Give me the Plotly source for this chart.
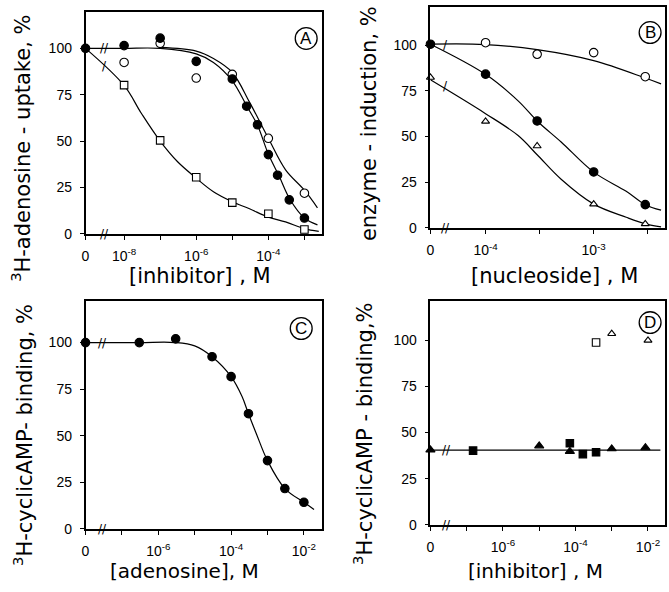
import numpy as np
import plotly.graph_objects as go

W, H = 669, 592
INK = "black"
TICK_FONT = dict(family="Liberation Sans, Arial", size=14, color=INK)
TITLE_FONT = dict(family="DejaVu Sans", size=21, color=INK)

# ==============================
# Values (concentration in M, 0 = no addition)
# ==============================

# Panel A: 3H-adenosine uptake vs [inhibitor]
a_filled_x = [0, 1e-8, 1e-7, 1e-6, 1e-5, 2.5e-5, 5e-5, 1e-4, 1.8e-4, 3.8e-4, 1e-3]
a_filled_y = [100, 101.5, 105.5, 93, 83.5, 68.8, 58.8, 42.7, 31.6, 18.3, 8.5]
a_open_x = [1e-8, 1e-7, 1e-6, 1e-5, 1e-4, 1e-3]
a_open_y = [92.4, 102.7, 84, 86, 51.5, 21.9]
a_square_x = [1e-8, 1e-7, 1e-6, 1e-5, 1e-4, 1e-3]
a_square_y = [80.2, 50.4, 30.5, 16.8, 10.8, 2.3]
# fitted curves as drawn
a_fit_filled_x = [0, 1e-8, 1e-7, 1e-6, 3e-6, 1e-5, 2.5e-5, 5e-5, 1e-4, 2e-4, 4e-4, 1e-3, 2.3e-3]
a_fit_filled_y = [100, 100, 100, 97, 92.4, 82.5, 69, 58.5, 43, 31, 18.5, 8.5, 4.8]
a_fit_open_x = [1e-7, 1e-6, 3e-6, 1e-5, 3e-5, 1e-4, 3e-4, 1e-3, 2.3e-3]
a_fit_open_y = [100.5, 98.5, 94.5, 87, 71, 51.5, 34.5, 23.5, 14]
a_fit_square_x = [0, 1e-8, 3e-8, 1e-7, 3e-7, 1e-6, 3e-6, 1e-5, 3e-5, 1e-4, 3e-4, 1e-3, 2.5e-3]
a_fit_square_y = [100, 80, 65, 50, 39, 30, 22.7, 17.3, 13.5, 9, 6.4, 2.8, 1.3]
a_tick_vals = [0, 1e-8, 1e-6, 1e-4]
a_tick_text = ["0", "10<sup>-8</sup>", "10<sup>-6</sup>", "10<sup>-4</sup>"]
a_minor_vals = [1e-7, 1e-5, 1e-3]

# Panel B: enzyme induction vs [nucleoside]
b_open_x = [1e-4, 3e-4, 1e-3, 3e-3]
b_open_y = [101.3, 95, 95.9, 82.7]
b_filled_x = [0, 1e-4, 3e-4, 1e-3, 3e-3]
b_filled_y = [100.5, 84.1, 58.5, 30.6, 12.7]
b_tri_x = [0, 1e-4, 3e-4, 1e-3, 3e-3]
b_tri_y = [82.3, 58.3, 44.8, 13, 2.2]
b_fit_open_x = [0, 1e-4, 3e-4, 1e-3, 3e-3, 4.2e-3]
b_fit_open_y = [100.5, 100.3, 97.5, 91.5, 82, 78.8]
b_fit_x = [0, 1e-4, 2e-4, 3e-4, 5e-4, 1e-3, 2e-3, 3e-3, 4.2e-3]
b_fit_filled_y = [100.5, 84, 69.5, 58.5, 47, 30.5, 20, 12.7, 9.7]
b_fit_tri_y = [81, 62.5, 50.5, 40, 26.6, 13, 5.8, 2.2, 0.5]
b_tick_vals = [0, 1e-4, 1e-3]
b_tick_text = ["0", "10<sup>-4</sup>", "10<sup>-3</sup>"]
b_minor_vals = [3.16e-4, 3.16e-3]

# Panel C: 3H-cyclicAMP binding vs [adenosine]
c_x = [0, 3e-7, 3e-6, 3e-5, 1e-4, 3e-4, 1e-3, 3e-3, 1e-2]
c_y = [100, 100, 102, 92.4, 81.7, 61.8, 36.6, 21.6, 14.2]
c_fit_x = [0, 3e-7, 3e-6, 1e-5, 3e-5, 1e-4, 2e-4, 3e-4, 5e-4, 1e-3, 3e-3, 1e-2, 1.9e-2]
c_fit_y = [100, 100, 100, 98.2, 92.4, 81.7, 71, 61.8, 50.8, 36.6, 21.6, 14.2, 10.4]

# Panel D: 3H-cyclicAMP binding vs [inhibitor]
d_tri_x = [0, 1e-5, 7e-5, 1e-3, 8.5e-3]
d_tri_y = [40.6, 42.8, 39.8, 41.2, 41.8]
d_sq_x = [1.5e-7, 7e-5, 1.6e-4, 3.7e-4]
d_sq_y = [40.2, 44.2, 38.3, 39.3]
d_open_sq_x = [3.7e-4]
d_open_sq_y = [98.8]
d_open_tri_x = [1e-3, 1e-2]
d_open_tri_y = [103.6, 100]
d_line_x = [0, 2.2e-2]
d_line_y = [40.5, 40.5]

cd_tick_vals = [0, 1e-6, 1e-4, 1e-2]
cd_tick_text = ["0", "10<sup>-6</sup>", "10<sup>-4</sup>", "10<sup>-2</sup>"]
cd_minor_vals = [1e-7, 1e-5, 1e-3]
y_tick_vals = [0, 25, 50, 75, 100]


# ==============================
# Panel geometry (pixels) and helpers
# ==============================

PANELS = {
    "A": dict(n="", box=(82, 320, 12, 237), xr=(-9.07, -2.51), ytop=119.7, brk=-8.55),
    "B": dict(n="2", box=(429, 665, 7, 231), xr=(-4.51, -2.34), ytop=120.9, brk=-4.37),
    "C": dict(n="3", box=(82, 320, 305, 536), xr=(-8.0, -1.5), ytop=122.4, brk=-7.52),
    "D": dict(n="4", box=(429, 665, 305, 532), xr=(-8.0, -1.53), ytop=121.4, brk=-7.57),
}


def fx(p):
    return p / W


def fy(p):
    return 1 - p / H


def on_axis(values, panel):
    # "0" is drawn at the left end of the broken log axis
    zero = 10 ** PANELS[panel]["xr"][0]
    return [zero if v == 0 else v for v in values]


fig = go.Figure()


def curve(panel, x, y):
    n = PANELS[panel]["n"]
    fig.add_trace(go.Scatter(
        x=on_axis(x, panel), y=y, mode="lines",
        line=dict(color=INK, width=1.2, shape="spline"),
        xaxis="x" + n, yaxis="y" + n, hoverinfo="skip",
    ))


def points(panel, x, y, symbol, filled=True, size=8.5):
    n = PANELS[panel]["n"]
    fig.add_trace(go.Scatter(
        x=on_axis(x, panel), y=y, mode="markers", cliponaxis=False,
        marker=dict(symbol=symbol, size=size, color=INK if filled else "white",
                    line=dict(color=INK, width=1.1)),
        xaxis="x" + n, yaxis="y" + n,
    ))


# Panel A
curve("A", a_fit_square_x, a_fit_square_y)
curve("A", a_fit_open_x, a_fit_open_y)
curve("A", a_fit_filled_x, a_fit_filled_y)
points("A", a_square_x, a_square_y, "square", filled=False, size=7.5)
points("A", a_open_x, a_open_y, "circle", filled=False)
points("A", a_filled_x, a_filled_y, "circle")

# Panel B
curve("B", b_fit_open_x, b_fit_open_y)
curve("B", b_fit_x, b_fit_filled_y)
curve("B", b_fit_x, b_fit_tri_y)
points("B", b_open_x, b_open_y, "circle", filled=False)
points("B", b_tri_x, b_tri_y, "triangle-up", filled=False, size=7)
points("B", b_filled_x, b_filled_y, "circle")

# Panel C
curve("C", c_fit_x, c_fit_y)
points("C", c_x, c_y, "circle")

# Panel D
curve("D", d_line_x, d_line_y)
points("D", d_tri_x, d_tri_y, "triangle-up", size=8)
points("D", d_sq_x, d_sq_y, "square", size=7.5)
points("D", d_open_sq_x, d_open_sq_y, "square", filled=False, size=7.5)
points("D", d_open_tri_x, d_open_tri_y, "triangle-up", filled=False, size=7)

# ==============================
# Axes
# ==============================

x_ticks = {"A": (a_tick_vals, a_tick_text, a_minor_vals),
           "B": (b_tick_vals, b_tick_text, b_minor_vals),
           "C": (cd_tick_vals, cd_tick_text, cd_minor_vals),
           "D": (cd_tick_vals, cd_tick_text, cd_minor_vals)}

layout_axes = {}
for name, p in PANELS.items():
    left, right, top, bottom = p["box"]
    vals, text, minor = x_ticks[name]
    common = dict(showline=True, linecolor=INK, linewidth=1.5, mirror=True,
                  ticks="outside", ticklen=4, tickwidth=1.2, tickcolor=INK,
                  showgrid=False, zeroline=False, tickfont=TICK_FONT)
    layout_axes["xaxis" + p["n"]] = dict(
        common, type="log", domain=[fx(left), fx(right)], range=list(p["xr"]),
        anchor="y" + p["n"], tickvals=on_axis(vals, name), ticktext=text,
        ticklabelstandoff=5,
        minor=dict(tickvals=minor, ticks="outside", ticklen=4, tickwidth=1.2,
                   tickcolor=INK, showgrid=False),
    )
    layout_axes["yaxis" + p["n"]] = dict(
        common, domain=[fy(bottom), fy(top)], range=[0, p["ytop"]],
        anchor="x" + p["n"], tickvals=y_tick_vals, ticklabelstandoff=5,
    )

# ==============================
# Titles, break marks, panel letters
# ==============================

annotations = []


def paper_text(text, x, y, size=21, angle=0):
    annotations.append(dict(text=text, x=fx(x), y=fy(y), xref="paper", yref="paper",
                            showarrow=False, textangle=angle, xanchor="center",
                            yanchor="middle", font=dict(TITLE_FONT, size=size)))


paper_text("[inhibitor] , M", 197, 280)
paper_text("[nucleoside] , M", 554, 280)
paper_text("[adenosine], M", 182, 579, size=20)
paper_text("[inhibitor] , M", 535, 579, size=20)
paper_text("<sup>3</sup>H-adenosine - uptake, %", 17, 150, angle=-90)
paper_text("enzyme - induction, %", 368, 125, angle=-90)
paper_text("<sup>3</sup>H-cyclicAMP- binding, %", 19, 441, angle=-90)
paper_text("<sup>3</sup>H-cyclicAMP - binding,%", 361, 440, angle=-90)

# axis-break marks: (panel, y, mark)
breaks = [("A", 100, "//"), ("A", 90.5, "/"), ("A", 0, "//"),
          ("B", 100, "/"), ("B", 77.5, "/"), ("B", 0, "//"),
          ("C", 100, "//"), ("C", 0, "//"),
          ("D", 40.5, "//"), ("D", 0, "//")]
for name, yv, mark in breaks:
    p = PANELS[name]
    annotations.append(dict(text=mark, x=p["brk"], y=yv, xref="x" + p["n"], yref="y" + p["n"],
                            showarrow=False, xanchor="center", yanchor="middle",
                            font=dict(family="DejaVu Sans", size=12, color=INK)))

letters = {"A": (304, 39), "B": (650, 33), "C": (299, 333), "D": (650, 327)}
shapes = []
for letter, (cx, cy) in letters.items():
    r = 11
    shapes.append(dict(type="circle", xref="paper", yref="paper",
                       x0=fx(cx - r), x1=fx(cx + r), y0=fy(cy + r), y1=fy(cy - r),
                       line=dict(color=INK, width=1.3)))
    annotations.append(dict(text=letter, x=fx(cx), y=fy(cy), xref="paper", yref="paper",
                            showarrow=False, xanchor="center", yanchor="middle",
                            font=dict(family="Liberation Sans, Arial", size=17, color=INK)))

fig.update_layout(
    width=W, height=H,
    margin=dict(l=0, r=0, t=0, b=0),
    paper_bgcolor="white", plot_bgcolor="white",
    showlegend=False,
    annotations=annotations, shapes=shapes,
    **layout_axes,
)

# the page's default body margin would push the figure off the window
fig.write_html("out.html", config={"displayModeBar": False},
               post_script="document.body.style.margin = '0px';")
